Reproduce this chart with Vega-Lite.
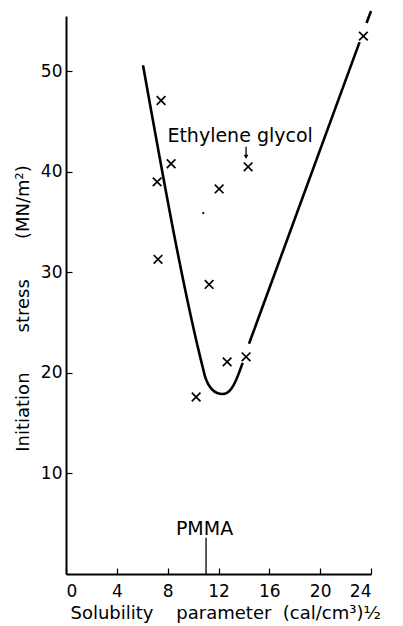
{
  "$schema": "https://vega.github.io/schema/vega-lite/v6.json",
  "width": 305,
  "height": 558,
  "autosize": {"type": "none"},
  "padding": {"left": 66, "top": 16, "right": 32, "bottom": 52},
  "background": "white",
  "config": {
    "view": {"stroke": null},
    "font": "DejaVu Sans",
    "axis": {
      "grid": false,
      "domainColor": "black",
      "domainWidth": 2,
      "tickColor": "black",
      "tickWidth": 1.2,
      "tickSize": -6,
      "labelColor": "black",
      "labelFont": "DejaVu Sans",
      "labelFontSize": 17,
      "titleColor": "black",
      "titleFont": "DejaVu Sans",
      "titleFontSize": 18,
      "titleFontWeight": "normal"
    }
  },
  "datasets": {
    "pts": [
      {"x": 7.48, "y": 47.1}, {"x": 8.27, "y": 40.8}, {"x": 7.17, "y": 39.0},
      {"x": 12.05, "y": 38.3}, {"x": 14.33, "y": 40.5}, {"x": 7.24, "y": 31.3},
      {"x": 11.26, "y": 28.8}, {"x": 12.68, "y": 21.1}, {"x": 14.17, "y": 21.6},
      {"x": 10.24, "y": 17.6}, {"x": 23.4, "y": 53.5}
    ],
    "curve": [
      {"seg": "a", "x": 6.06, "y": 50.6}, {"seg": "a", "x": 10.75, "y": 20.6},
      {"seg": "a", "x": 10.95, "y": 19.6}, {"seg": "a", "x": 11.2, "y": 18.85},
      {"seg": "a", "x": 11.5, "y": 18.35}, {"seg": "a", "x": 11.9, "y": 18.0},
      {"seg": "a", "x": 12.3, "y": 17.9}, {"seg": "a", "x": 12.7, "y": 18.05},
      {"seg": "a", "x": 13.05, "y": 18.5}, {"seg": "a", "x": 13.35, "y": 19.2},
      {"seg": "a", "x": 13.9, "y": 21.0},
      {"seg": "b", "x": 14.4, "y": 22.9}, {"seg": "b", "x": 23.1, "y": 52.9},
      {"seg": "c", "x": 23.65, "y": 54.8}, {"seg": "c", "x": 24.0, "y": 56.0}
    ],
    "labels": [
      {"x": 13.7, "y": 43.0, "t": "Ethylene glycol"},
      {"x": 10.9, "y": 3.9, "t": "PMMA"}
    ],
    "rules": [
      {"x": 11.02, "y": 0, "y2": 3.6},
      {"x": 14.17, "y": 42.5, "y2": 41.4}
    ]
  },
  "layer": [
    {
      "data": {"name": "curve"},
      "mark": {"type": "line", "color": "black", "strokeWidth": 2.6, "interpolate": "monotone", "clip": false},
      "encoding": {
        "x": {"field": "x", "type": "quantitative", "scale": {"domain": [0, 24], "nice": false, "zero": false},
          "axis": {"values": [0, 4, 8, 12, 16, 20, 24], "labelPadding": 15, "title": "Solubility\u00a0\u00a0\u00a0\u00a0parameter\u00a0\u00a0(cal/cm³)½", "titlePadding": 5, "titleX": 4, "titleAlign": "left"}},
        "y": {"field": "y", "type": "quantitative", "scale": {"domain": [0, 55.5], "nice": false, "zero": false},
          "axis": {"values": [10, 20, 30, 40, 50], "labelPadding": 10, "title": "Initiation\u00a0\u00a0\u00a0\u00a0\u00a0\u00a0\u00a0stress\u00a0\u00a0\u00a0\u00a0\u00a0\u00a0\u00a0(MN/m²)", "titlePadding": 8, "titleY": 292}},
        "detail": {"field": "seg"}
      }
    },
    {
      "data": {"name": "rules"},
      "mark": {"type": "rule", "color": "black", "strokeWidth": 1.3},
      "encoding": {
        "x": {"field": "x", "type": "quantitative"},
        "y": {"field": "y", "type": "quantitative"},
        "y2": {"field": "y2"}
      }
    },
    {
      "data": {"values": [{"x": 14.17, "y": 41.5}]},
      "mark": {"type": "point", "shape": "triangle-down", "filled": true, "color": "black", "size": 22, "opacity": 1},
      "encoding": {
        "x": {"field": "x", "type": "quantitative"},
        "y": {"field": "y", "type": "quantitative"}
      }
    },
    {
      "data": {"name": "pts"},
      "mark": {"type": "point", "shape": "M-1,-1L1,1M-1,1L1,-1", "filled": false, "color": "black", "strokeWidth": 1.7, "size": 75, "opacity": 1},
      "encoding": {
        "x": {"field": "x", "type": "quantitative"},
        "y": {"field": "y", "type": "quantitative"}
      }
    },
    {
      "data": {"values": [{"x": 10.8, "y": 35.9}]},
      "mark": {"type": "point", "shape": "circle", "filled": true, "color": "black", "size": 5, "opacity": 1},
      "encoding": {
        "x": {"field": "x", "type": "quantitative"},
        "y": {"field": "y", "type": "quantitative"}
      }
    },
    {
      "data": {"name": "labels"},
      "mark": {"type": "text", "fontSize": 19, "color": "black", "align": "center", "baseline": "alphabetic", "font": "DejaVu Sans"},
      "encoding": {
        "x": {"field": "x", "type": "quantitative"},
        "y": {"field": "y", "type": "quantitative"},
        "text": {"field": "t"}
      }
    }
  ]
}
